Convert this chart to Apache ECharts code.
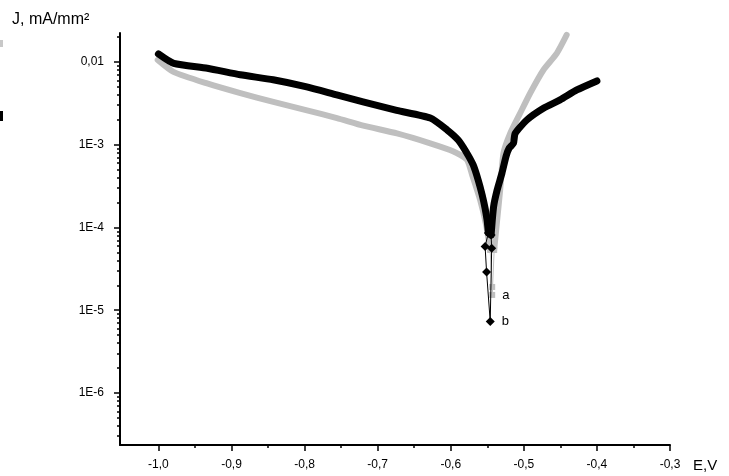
<!DOCTYPE html>
<html>
<head>
<meta charset="utf-8">
<script src="https://cdn.jsdelivr.net/npm/echarts@6/dist/echarts.min.js"></script>
<style>
html,body{margin:0;padding:0;background:#fff;}
#chart{width:729px;height:476px;}
</style>
</head>
<body>
<div id="chart"></div>
<script>
// ---- data (E in V, J in mA/mm^2) ----
// curve a (grey)
const aLeftE  = [-1.001, -0.9795, -0.9334, -0.8879, -0.8428, -0.7967, -0.7557, -0.7197, -0.6736, -0.6281, -0.5963, -0.5779, -0.5707, -0.5598, -0.5516, -0.5461];
const aLeftJ  = [0.0106, 0.0076, 0.0055, 0.0042, 0.0033, 0.0026, 0.0021, 0.0017, 0.00137, 0.00104, 0.00083, 0.00066, 0.00043, 0.000215, 0.000107, 0.0000535];
const aTailE  = [-0.5461, -0.5433, -0.5433, -0.5406];
const aTailJ  = [0.0000535, 0.0000191, 0.0000153, 0.0000535];
const aRightE = [-0.5406, -0.5365, -0.5324, -0.5279, -0.5187, -0.5051, -0.4914, -0.4732, -0.4549, -0.4414];
const aRightJ = [0.0000535, 0.000123, 0.000284, 0.00079, 0.00137, 0.0024, 0.00419, 0.0080, 0.0127, 0.0212];
// curve b (black)
const bLeftE  = [-1.000, -0.979, -0.933, -0.888, -0.843, -0.797, -0.756, -0.720, -0.674, -0.628, -0.605, -0.5898, -0.5789, -0.5693, -0.5625, -0.557, -0.5531, -0.5503, -0.5485];
const bLeftJ  = [0.0125, 0.0096, 0.0084, 0.0070, 0.0061, 0.0050, 0.0040, 0.0033, 0.0026, 0.0021, 0.00151, 0.00114, 0.000817, 0.000569, 0.000375, 0.000247, 0.000172, 0.000123, 0.000086];
const bTailE  = [-0.5485, -0.553, -0.551, -0.546, -0.544, -0.5448];
const bTailJ  = [0.000086, 0.000059, 0.000029, 0.0000073, 0.000056, 0.000081];
const bRightE = [-0.5448, -0.5414, -0.5365, -0.530, -0.5242, -0.520, -0.5142, -0.5119, -0.4959, -0.4732, -0.4504, -0.4275, -0.400];
const bRightJ = [0.000081, 0.000178, 0.000284, 0.000452, 0.00073, 0.00091, 0.00104, 0.00137, 0.00199, 0.00276, 0.00348, 0.00459, 0.0059];
// end labels
const curveNames = ['a', 'b'];
// axes
const xTickValues = [-1.0, -0.9, -0.8, -0.7, -0.6, -0.5, -0.4, -0.3];
const xMinorTicks = [-0.95, -0.85, -0.75, -0.65, -0.55, -0.45, -0.35];
const yTickValues = [1e-6, 1e-5, 1e-4, 1e-3, 1e-2];
const yTickLabels = ['1E-6', '1E-5', '1E-4', '1E-3', '0,01'];
const xAxisTitle = 'E,V';
const yAxisTitle = 'J, mA/mm\u00B2';

// ---- build ----
const zip = (E, J) => E.map((e, i) => [e, J[i]]);
const yMinorTicks = [];
for (let n = -7; n <= -2; n++) {
  for (let k = 2; k <= 9; k++) yMinorTicks.push(Number((k * Math.pow(10, n)).toPrecision(3)));
}
const FONT = 'Liberation Sans, Arial, sans-serif';
const xMin = -1.0526, xMax = -0.3;
const yMin = 2.35e-7, yMax = 0.0224;

function markEnd(data, idx, text) {
  return data.map((p, i) => i === idx ? {value: p, label: {show: true, formatter: text, position: 'right', distance: 7, color: '#000', fontSize: 13, fontFamily: FONT}} : p);
}

const GREY = '#bfbfbf';
const thick = (color, w) => ({color: color, width: w, cap: 'round', join: 'round'});
const chart = echarts.init(document.getElementById('chart'), null, {renderer: 'canvas'});
chart.setOption({
  animation: false,
  backgroundColor: '#fff',
  grid: {left: 120, right: 59, top: 33, bottom: 31, outerBoundsMode: 'none'},
  xAxis: [
    {
      type: 'value', min: xMin, max: xMax, position: 'bottom',
      axisLine: {lineStyle: {color: '#000', width: 2}},
      axisTick: {customValues: xTickValues, length: 6, lineStyle: {color: '#000', width: 1.5}},
      axisLabel: {customValues: xTickValues, margin: 14, color: '#000', fontSize: 12, fontFamily: FONT,
        formatter: v => v.toFixed(1).replace('.', ',')},
      splitLine: {show: false}
    },
    {
      type: 'value', min: xMin, max: xMax, position: 'bottom',
      axisLine: {show: false},
      axisTick: {customValues: xMinorTicks, length: 3, lineStyle: {color: '#000', width: 1.5}},
      axisLabel: {show: false},
      splitLine: {show: false}
    }
  ],
  yAxis: [
    {
      type: 'log', logBase: 10, min: yMin, max: yMax, position: 'left',
      axisLine: {show: true, lineStyle: {color: '#000', width: 2}},
      axisTick: {customValues: yTickValues, length: 6, lineStyle: {color: '#000', width: 1.5}},
      axisLabel: {customValues: yTickValues, margin: 16, color: '#000', fontSize: 12, fontFamily: FONT,
        formatter: v => {
          const n = Math.round(Math.log10(v));
          const i = yTickValues.findIndex(t => Math.round(Math.log10(t)) === n);
          return i >= 0 ? yTickLabels[i] : '';
        }},
      splitLine: {show: false}
    },
    {
      type: 'log', logBase: 10, min: yMin, max: yMax, position: 'left',
      axisLine: {show: false},
      axisTick: {customValues: yMinorTicks, length: 3, lineStyle: {color: '#000', width: 1.5}},
      axisLabel: {show: false},
      splitLine: {show: false}
    }
  ],
  series: [
    {name: 'a', type: 'line', data: zip(aLeftE, aLeftJ), showSymbol: false, symbol: 'none', smooth: 0.2,
      lineStyle: thick(GREY, 6), z: 2},
    {name: 'a', type: 'line', data: zip(aRightE, aRightJ), showSymbol: false, symbol: 'none', smooth: 0.2,
      lineStyle: thick(GREY, 6), z: 2},
    {name: 'a', type: 'line', data: markEnd(zip(aTailE, aTailJ), 2, curveNames[0]), symbol: 'rect', symbolSize: 6,
      itemStyle: {color: GREY}, lineStyle: {color: GREY, width: 1}, z: 2},
    {name: 'b', type: 'line', data: zip(bLeftE, bLeftJ), showSymbol: false, symbol: 'none', smooth: 0.2,
      lineStyle: thick('#000', 7), z: 3},
    {name: 'b', type: 'line', data: zip(bRightE, bRightJ), showSymbol: false, symbol: 'none', smooth: 0.2,
      lineStyle: thick('#000', 7), z: 3},
    {name: 'b', type: 'line', data: markEnd(zip(bTailE, bTailJ), 3, curveNames[1]), symbol: 'diamond', symbolSize: 9,
      itemStyle: {color: '#000'}, lineStyle: {color: '#000', width: 1}, z: 3}
  ],
  graphic: [
    {type: 'text', left: 12, top: 12, style: {text: yAxisTitle, fill: '#000', font: '16px ' + FONT}},
    {type: 'text', left: 693, top: 458, style: {text: xAxisTitle, fill: '#000', font: '15px ' + FONT}},
    {type: 'rect', shape: {x: 0, y: 40, width: 3, height: 7}, style: {fill: '#c8c8c8'}},
    {type: 'rect', shape: {x: 0, y: 111, width: 3, height: 10}, style: {fill: '#000'}}
  ]
});
</script>
</body>
</html>
